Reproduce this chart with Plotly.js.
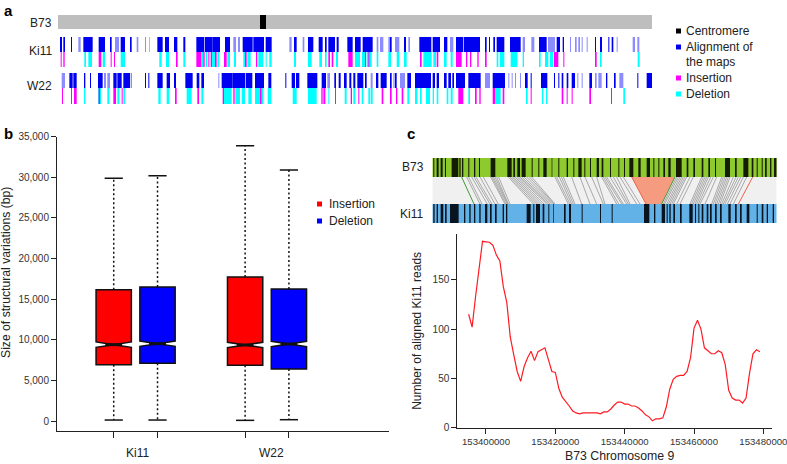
<!DOCTYPE html>
<html>
<head>
<meta charset="utf-8">
<script src="https://cdn.plot.ly/plotly-3.0.1.min.js"></script>
<style>html,body{margin:0;padding:0;background:#fff}</style>
</head>
<body>
<div id="graph" style="width:787px;height:464px"></div>
<script>
// panel a: map positions along the chromosome, [start, end]
var b73Chrom = [[174, 1956]];
var centromere = [[780, 798]];
var ki11Align = [[180,186],[190,195],[213,216],[250,278],[296,315],[330,335],[362,375],[390,395],[472,488],[495,507],[522,532],[550,556],[589,612],[614,638],[638,660],[675,690],[728,758],[760,792],[797,815],[882,890],[924,940],[956,968],[975,980],[985,1005],[1010,1016],[1042,1058],[1065,1082],[1088,1118],[1170,1175],[1212,1218],[1258,1294],[1298,1320],[1332,1342],[1368,1390],[1392,1440],[1455,1460],[1467,1470],[1480,1485],[1490,1513],[1530,1562],[1617,1640],[1670,1680],[1688,1692],[1785,1788],[1800,1806],[1825,1828],[1835,1840]];
var ki11AlignLight = [[235,242],[345,357],[410,415],[435,438],[448,450],[700,708],[714,720],[868,875],[908,913],[1130,1135],[1140,1150],[1165,1170],[1185,1198],[1225,1230],[1350,1360],[1568,1575],[1594,1603],[1644,1665],[1710,1713],[1725,1730],[1735,1740],[1745,1748],[1760,1763],[1850,1853],[1898,1905],[1912,1918]];
var ki11Ins = [[182,185],[190,194],[296,304],[332,335],[342,345],[528,533],[589,603],[610,614],[625,628],[632,636],[645,650],[672,680],[735,740],[768,772],[985,990],[995,1000],[1045,1058],[1095,1098],[1105,1108],[1260,1265],[1310,1315],[1368,1385],[1398,1402],[1410,1414],[1432,1436],[1455,1460],[1662,1675],[1690,1693],[1785,1790]];
var ki11Del = [[253,258],[265,276],[308,315],[362,375],[478,485],[498,507],[550,556],[603,610],[617,622],[636,645],[652,658],[682,690],[702,708],[730,735],[742,752],[775,790],[797,800],[808,815],[882,888],[924,935],[958,966],[975,980],[1008,1014],[1065,1080],[1086,1095],[1100,1115],[1130,1135],[1165,1173],[1190,1198],[1212,1220],[1270,1295],[1300,1308],[1332,1340],[1352,1358],[1490,1495],[1500,1513],[1532,1552],[1568,1572],[1617,1622],[1635,1645],[1650,1660],[1800,1805],[1913,1919]];
var w22Align = [[208,218],[220,230],[252,256],[270,273],[294,308],[340,350],[352,365],[370,390],[435,438],[445,448],[472,488],[500,510],[522,528],[556,578],[590,598],[604,612],[665,698],[698,735],[737,757],[765,792],[805,814],[856,859],[875,885],[888,898],[922,952],[965,978],[1003,1008],[1016,1022],[1032,1040],[1048,1054],[1060,1066],[1072,1090],[1095,1100],[1128,1135],[1142,1160],[1170,1175],[1185,1190],[1222,1233],[1245,1293],[1298,1305],[1310,1317],[1332,1340],[1345,1353],[1357,1362],[1368,1395],[1405,1442],[1478,1515],[1575,1583],[1592,1595],[1623,1642],[1662,1665],[1675,1678],[1685,1690],[1700,1705],[1715,1725],[1768,1776],[1818,1822],[1842,1847],[1912,1915],[1940,1957]];
var w22AlignLight = [[185,195],[312,318],[322,330],[392,396],[655,658],[982,990],[1112,1118],[1180,1184],[1200,1215],[1455,1470],[1525,1528],[1535,1538],[1545,1548],[1560,1563],[1732,1735],[1745,1748],[1785,1790],[1795,1805],[1858,1870]];
var w22Ins = [[186,189],[213,216],[222,230],[296,300],[340,348],[365,368],[525,530],[592,597],[668,672],[700,704],[780,785],[964,968],[970,976],[1005,1008],[1052,1056],[1075,1078],[1145,1150],[1170,1175],[1188,1192],[1205,1210],[1375,1390],[1425,1430],[1438,1442],[1478,1485],[1508,1513],[1592,1595],[1685,1690],[1700,1703],[1715,1718],[1768,1773],[1833,1836]];
var w22Del = [[252,256],[294,303],[322,328],[352,358],[370,375],[475,482],[500,508],[560,575],[604,610],[672,695],[706,720],[725,735],[745,755],[765,780],[785,790],[803,814],[878,890],[924,950],[985,988],[1034,1040],[1060,1066],[1085,1090],[1105,1110],[1112,1118],[1222,1228],[1245,1252],[1260,1265],[1278,1290],[1298,1302],[1310,1315],[1340,1345],[1352,1358],[1380,1383],[1405,1410],[1480,1502],[1578,1583],[1626,1630],[1638,1642],[1870,1875]];

// panel b: box statistics, bp
var boxGroups = ['Ki11', 'W22'];
var insertPos = [1, 4];
var deletePos = [2, 5];
var insertQ1 = [6935, 6850], insertMed = [9400, 9360], insertQ3 = [16170, 17730];
var insertLow = [120, 80], insertHigh = [29870, 33900], insertNotch = [330, 330];
var deleteQ1 = [7100, 6400], deleteMed = [9520, 9480], deleteQ3 = [16500, 16250];
var deleteLow = [120, 160], deleteHigh = [30200, 30900], deleteNotch = [330, 330];

// panel c: strips and links, same track units for top and bottom
var b73Bands = [[100,103],[110,116],[122,128],[135,138],[155,175],[178,182],[186,190],[205,208],[222,226],[237,240],[272,286],[322,335],[340,345],[352,360],[365,377],[395,398],[415,418],[430,440],[455,457],[475,478],[500,504],[520,523],[535,545],[553,556],[570,573],[590,597],[605,610],[630,633],[655,658],[672,675],[688,700],[715,722],[740,750],[760,763],[775,778],[790,795],[805,812],[828,845],[860,865],[880,885],[905,910],[925,930],[945,948],[975,990],[1005,1010],[1030,1045],[1055,1060],[1070,1073],[1085,1088],[1095,1100],[1110,1114],[1122,1130]];
var ki11Bands = [[100,104],[110,114],[122,130],[135,140],[150,176],[192,196],[208,212],[222,226],[238,242],[255,262],[270,275],[285,290],[308,312],[318,322],[380,392],[400,403],[408,420],[428,433],[445,448],[460,462],[492,497],[507,513],[545,548],[600,603],[635,638],[732,748],[762,766],[785,795],[800,803],[808,812],[820,825],[840,845],[868,878],[885,888],[895,898],[905,910],[920,925],[930,935],[945,950],[960,965],[985,992],[1005,1010],[1020,1025],[1040,1048],[1070,1073],[1085,1090],[1100,1104],[1118,1122]];
var linkTop = [200,206,215,222,228,240,250,272,276,280,285,290,296,325,330,335,340,345,350,355,360,365,372,380,388,395,465,470,478,484,490,515,540,555,575,590,605,610,615,620,630,640,650,660,670,812,820,830,835,840,845,850,855,860,870,880,905,910,915,920,925,932,940,950,965,970,975,980,985,990,1000,1008,1015,1022,1030,1040];
var linkBottom = [240,246,262,270,276,285,295,315,318,322,324,325,330,400,406,412,418,425,432,440,445,450,455,460,463,465,505,510,515,520,525,545,570,590,610,615,650,656,665,670,680,685,690,710,720,772,780,790,794,800,805,810,815,820,830,840,870,875,880,885,890,895,900,915,935,940,945,950,955,960,965,970,975,982,990,1000];
var greenLink = [[185,222],[825,785]];
var redLink = [[1058,1015],[695,738]];
var gapTop = [695, 825];
var gapBottom = [738, 785];

// panel c: read depth
var chr9Pos = [153395000,153396000,153397000,153398000,153399000,153400000,153401000,153402000,153403000,153404000,153405000,153406000,153407000,153408000,153409000,153410000,153411000,153412000,153413000,153414000,153415000,153416000,153417000,153418000,153419000,153420000,153421000,153422000,153423000,153424000,153425000,153426000,153427000,153428000,153429000,153430000,153431000,153432000,153433000,153434000,153435000,153436000,153437000,153438000,153439000,153440000,153441000,153442000,153443000,153444000,153445000,153446000,153447000,153448000,153449000,153450000,153451000,153452000,153453000,153454000,153455000,153456000,153457000,153458000,153459000,153460000,153461000,153462000,153463000,153464000,153465000,153466000,153467000,153468000,153469000,153470000,153471000,153472000,153473000,153474000,153475000,153476000,153477000,153478000,153479000];
var ki11Reads = [115,102,133,162,189,188.5,188,185,175,169,143,127,92,74,57,47,62,71,77.5,68,77,79,81,69,57,56,40,31,27,22,17,15,14,15,15,15,15,15,14,16,16,19,23,26,26,24,24,22,22,20,17,13,11,7,9,9,10,21,39,49,52,53,53,57,71,101,109,100,81,78,75,75,78,76,64,38,30,28,28,25,30,55,75,79,77];

var FONT = 'Liberation Sans, Arial, sans-serif';
var INK = '#333333';

function px(x) { return x / 787; }
function py(y) { return 1 - y / 464; }

function bars(pairs, color, top, bottom, xa, ya, opacity) {
	return {
		type: 'bar',
		x: pairs.map(function(p) { return (p[0] + p[1]) / 2; }),
		width: pairs.map(function(p) { return p[1] - p[0]; }),
		y: pairs.map(function() { return bottom - top; }),
		base: top,
		xaxis: xa,
		yaxis: ya,
		opacity: opacity === undefined ? 1 : opacity,
		marker: {color: color, line: {width: 0}},
		hoverinfo: 'skip'
	};
}

function links(tops, bottoms, color, width) {
	var xs = [], ys = [];
	for (var i = 0; i < tops.length; i++) {
		xs.push(tops[i], bottoms[i], null);
		ys.push(177, 204, null);
	}
	return {
		type: 'scatter', mode: 'lines', x: xs, y: ys, xaxis: 'x3', yaxis: 'y3',
		line: {color: color, width: width}, hoverinfo: 'skip'
	};
}

function boxes(pos, q1, med, q3, low, high, notch, color) {
	return {
		type: 'box', x: pos, q1: q1, median: med, q3: q3,
		lowerfence: q1, upperfence: q3, notchspan: notch, notched: true, notchwidth: 0.5,
		width: 0.806, whiskerwidth: 0, boxpoints: false,
		fillcolor: color, line: {color: '#111111', width: 1.5},
		xaxis: 'x2', yaxis: 'y2', hoverinfo: 'skip'
	};
}

function whiskers(pos, from, to) {
	var xs = [], ys = [];
	for (var i = 0; i < pos.length; i++) {
		xs.push(pos[i], pos[i], null);
		ys.push(from[i], to[i], null);
	}
	return {
		type: 'scatter', mode: 'lines', x: xs, y: ys, xaxis: 'x2', yaxis: 'y2',
		line: {color: '#111111', width: 1.5, dash: '2px,2.5px'}, hoverinfo: 'skip'
	};
}

function ticksMark(pos, vals, size, width) {
	return {
		type: 'scatter', mode: 'markers', x: pos, y: vals, xaxis: 'x2', yaxis: 'y2',
		marker: {symbol: 'line-ew', size: size, line: {color: '#111111', width: width}},
		hoverinfo: 'skip'
	};
}

var data = [
	bars(b73Chrom, '#bebebe', 15, 29, 'x', 'y'),
	bars(centromere, '#000000', 15, 29, 'x', 'y'),
	bars(ki11AlignLight, '#8c8cff', 37, 52, 'x', 'y'),
	bars(ki11Align, '#0000f0', 37, 52, 'x', 'y'),
	bars(ki11Del, '#00ffff', 52, 67, 'x', 'y'),
	bars(ki11Ins, '#ff00ff', 52, 67, 'x', 'y'),
	bars(w22AlignLight, '#8c8cff', 73, 88, 'x', 'y'),
	bars(w22Align, '#0000f0', 73, 88, 'x', 'y'),
	bars(w22Del, '#00ffff', 88, 104, 'x', 'y'),
	bars(w22Ins, '#ff00ff', 88, 104, 'x', 'y'),

	boxes(insertPos, insertQ1, insertMed, insertQ3, insertLow, insertHigh, insertNotch, '#ff0000'),
	boxes(deletePos, deleteQ1, deleteMed, deleteQ3, deleteLow, deleteHigh, deleteNotch, '#0000ff'),
	whiskers(insertPos, insertQ3, insertHigh),
	whiskers(insertPos, insertQ1, insertLow),
	whiskers(deletePos, deleteQ3, deleteHigh),
	whiskers(deletePos, deleteQ1, deleteLow),
	ticksMark(insertPos, insertHigh, 13, 1.5),
	ticksMark(insertPos, insertLow, 13, 1.5),
	ticksMark(deletePos, deleteHigh, 13, 1.5),
	ticksMark(deletePos, deleteLow, 13, 1.5),
	ticksMark(insertPos, insertMed, 12, 3),
	ticksMark(deletePos, deleteMed, 12, 3),

	bars([[97, 1130]], '#8ec92e', 158, 177, 'x3', 'y3'),
	bars([[97, 1130]], '#f0f0f0', 177, 204, 'x3', 'y3'),
	bars([[97, 1130]], '#62b2e8', 204, 223, 'x3', 'y3'),
	bars(b73Bands, '#0a0f00', 158, 177, 'x3', 'y3', 0.92),
	bars(ki11Bands, '#00070f', 204, 223, 'x3', 'y3', 0.92),
	links(linkTop, linkBottom, '#a0a0a0', 0.9),
	{
		type: 'scatter', mode: 'lines', xaxis: 'x3', yaxis: 'y3', fill: 'toself',
		x: [gapTop[0], gapTop[1], gapBottom[1], gapBottom[0], gapTop[0]],
		y: [177, 177, 204, 204, 177],
		fillcolor: '#f59c80', line: {width: 0}, hoverinfo: 'skip'
	},
	links(greenLink.map(function(p) { return p[0]; }), greenLink.map(function(p) { return p[1]; }), '#3f9a35', 1),
	links(redLink.map(function(p) { return p[0]; }), redLink.map(function(p) { return p[1]; }), '#f0604a', 1),

	{
		type: 'scatter', mode: 'lines', x: chr9Pos, y: ki11Reads, xaxis: 'x4', yaxis: 'y4',
		line: {color: '#ff1a22', width: 1.2}, hoverinfo: 'skip'
	}
];

function hiddenAxis(extra) {
	return Object.assign({visible: false, fixedrange: true}, extra);
}

function plotAxis(extra) {
	return Object.assign({
		showgrid: false, zeroline: false, showline: true, linecolor: '#222222', linewidth: 1,
		ticks: 'outside', tickcolor: '#222222', ticklen: 5, tickwidth: 1,
		tickfont: {family: FONT, size: 10, color: INK}, fixedrange: true
	}, extra);
}

function label(text, x, y, anchor, size, bold, angle) {
	return {
		text: bold ? '<b>' + text + '</b>' : text,
		xref: 'paper', yref: 'paper', x: px(x), y: py(y),
		xanchor: anchor, yanchor: 'middle', showarrow: false, textangle: angle || 0,
		font: {family: FONT, size: size, color: bold ? '#000000' : '#222222'}
	};
}

function swatch(x, y, color) {
	return {
		type: 'rect', xref: 'paper', yref: 'paper', line: {width: 0}, fillcolor: color,
		x0: px(x), x1: px(x + 5), y0: py(y + 2.5), y1: py(y - 2.5)
	};
}

var annotations = [
	label('a', 2, 10, 'left', 15, true),
	label('b', 2, 134, 'left', 15, true),
	label('c', 405, 134, 'left', 15, true),
	label('B73', 54, 23, 'right', 12),
	label('Ki11', 54, 51, 'right', 12),
	label('W22', 54, 86, 'right', 12),
	label('Centromere', 684, 31, 'left', 12),
	label('Alignment of', 684, 47, 'left', 12),
	label('the maps', 684, 62, 'left', 12),
	label('Insertion', 684, 78, 'left', 12),
	label('Deletion', 684, 94, 'left', 12),
	label('Insertion', 327, 204, 'left', 12),
	label('Deletion', 327, 221, 'left', 12),
	label('B73', 426, 167, 'right', 12),
	label('Ki11', 425, 214, 'right', 12),
	label(boxGroups[0], 137, 453, 'center', 12),
	label(boxGroups[1], 271, 453, 'center', 12),
	label('Size of structural variations (bp)', 6, 273, 'center', 12.2, false, -90),
	label('B73 Chromosome 9', 620, 455.5, 'center', 12.3)
];

var layout = {
	width: 787, height: 464, autosize: false,
	margin: {l: 0, r: 0, t: 0, b: 0},
	paper_bgcolor: '#ffffff', plot_bgcolor: 'rgba(0,0,0,0)',
	showlegend: false, barmode: 'overlay', boxmode: 'overlay',
	font: {family: FONT, color: INK},
	xaxis: hiddenAxis({domain: [px(58), px(652)], range: [174, 1956], anchor: 'y'}),
	yaxis: hiddenAxis({domain: [py(108), py(10)], range: [108, 10], anchor: 'x'}),
	xaxis2: plotAxis({
		domain: [px(57), px(389)], range: [-0.295, 7.285], anchor: 'y2',
		tickvals: [1, 2, 4, 5], ticktext: ['', '', '', ''], ticklen: 6
	}),
	yaxis2: plotAxis({
		domain: [py(431), py(136.7)], range: [-1231, 35000], anchor: 'x2',
		tickvals: [0, 5000, 10000, 15000, 20000, 25000, 30000, 35000], tickformat: ',d'
	}),
	xaxis3: hiddenAxis({domain: [px(432.3), px(776.7)], range: [97, 1130], anchor: 'y3'}),
	yaxis3: hiddenAxis({domain: [py(223), py(158)], range: [223, 158], anchor: 'x3'}),
	xaxis4: plotAxis({
		domain: [px(457.3), px(771.7)], range: [153391730, 153482400], anchor: 'y4',
		tickvals: [153400000, 153420000, 153440000, 153460000, 153480000], tickformat: 'd',
		ticklabeloverflow: 'allow',
		tickfont: {family: FONT, size: 9.6, color: INK}
	}),
	yaxis4: plotAxis({
		domain: [py(427.7), py(234)], range: [0, 196.4], anchor: 'x4',
		tickvals: [0, 50, 100, 150],
		title: {text: 'Number of aligned Ki11 reads', standoff: 8, font: {family: FONT, size: 12, color: '#222222'}}
	}),
	shapes: [
		swatch(676, 31, '#000000'),
		swatch(676, 47, '#0000f0'),
		swatch(676, 78, '#ff00ff'),
		swatch(676, 94, '#00ffff'),
		swatch(317, 204, '#ff0000'),
		swatch(317, 221, '#0000ff')
	],
	annotations: annotations
};

Plotly.newPlot('graph', data, layout, {displayModeBar: false, staticPlot: true});
</script>
</body>
</html>
